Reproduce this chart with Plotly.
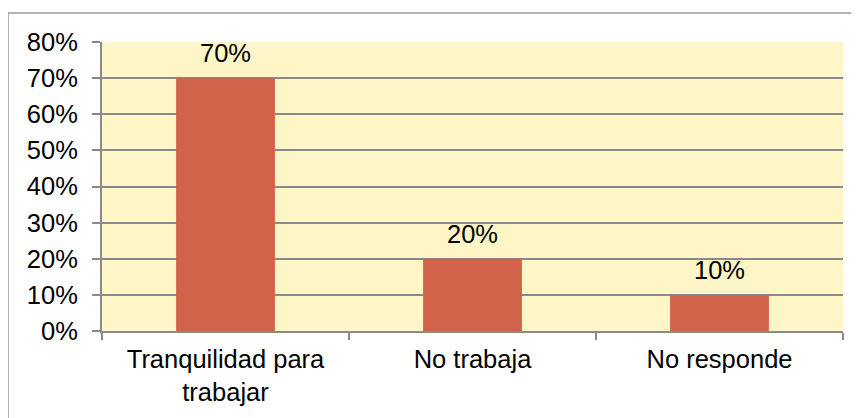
import plotly.graph_objects as go

# Chart data
categories = ['Tranquilidad para<br>trabajar', 'No trabaja', 'No responde']
values = [0.70, 0.20, 0.10]
labels = ['70%', '20%', '10%']

font = 'Liberation Sans, Arial, sans-serif'

fig = go.Figure(go.Bar(
    x=categories, y=values,
    marker=dict(color='#D0634A', line=dict(width=0)),
    width=0.4,
))

# value labels above bars
for c, v, t in zip(categories, values, labels):
    fig.add_annotation(x=c, y=v, text=t, showarrow=False,
                       yanchor='bottom', yshift=9,
                       font=dict(family=font, size=25.5, color='black'))

# outer chart border
fig.add_shape(type='rect', xref='paper', yref='paper',
              x0=(8 - 102) / 741, x1=1.2, y0=-1, y1=1 + (42 - 13) / 289,
              line=dict(color='#9a9a9a', width=1.5), fillcolor='rgba(0,0,0,0)')

# the page body adds an 8px margin, so the figure is sized to compensate
fig.update_layout(
    width=851, height=410,
    margin=dict(l=94, r=16, t=34, b=87),
    paper_bgcolor='white', plot_bgcolor='#FEF6C6',
    font=dict(family=font, size=25.5, color='black'),
    showlegend=False,
    bargap=0.6,
)
fig.update_yaxes(range=[0, 0.8], dtick=0.1, tickformat='.0%',
                 showgrid=True, gridcolor='#8a8a8a', gridwidth=2,
                 showline=True, linecolor='#8a8a8a', linewidth=2,
                 ticks='outside', ticklen=8, tickcolor='#8a8a8a', tickwidth=2,
                 ticklabelstandoff=9, zeroline=False, automargin=False)
fig.update_xaxes(showline=True, linecolor='#8a8a8a', linewidth=2,
                 ticks='outside', tickson='boundaries', ticklen=7,
                 tickcolor='#8a8a8a', tickwidth=2, showgrid=False,
                 ticklabelstandoff=4, automargin=False)

fig.write_html("out.html")
